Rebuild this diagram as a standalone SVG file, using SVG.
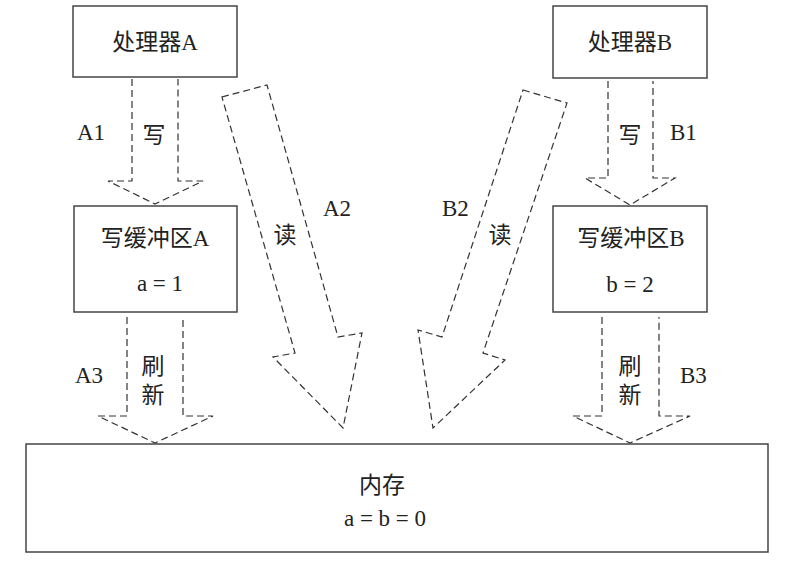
<svg xmlns="http://www.w3.org/2000/svg" width="789" height="572" viewBox="0 0 789 572">
<style>
.box{fill:#fff;stroke:#444;stroke-width:1.5}
.arr{fill:none;stroke:#333;stroke-width:1.2;stroke-dasharray:7 4}
text{font-family:"Liberation Serif","Noto Sans CJK SC",serif;font-size:23px;fill:#222}
.m{text-anchor:middle}
</style>
<rect width="789" height="572" fill="#fff"/>
<g id="connectors">
<path id="w-a1" class="arr" d="M132,79 V181 H108 L155,204 L203,181 H178 V79"/>
<path id="w-b1" class="arr" d="M608,81 V178 H585 L630,205 L675,178 H653 V81"/>
<path id="f-a3" class="arr" d="M127,317 V416 H98 L155,443 L213,416 H183 V317"/>
<path id="f-b3" class="arr" d="M602,317 V416 H573 L630,443 L690,416 H659 V317"/>
<path id="r-a2" class="arr" d="M222,97 L267,85 L338,337 L362,333 L343,428 L273,357 L295,353 Z"/>
<path id="r-b2" class="arr" d="M523,90 L567,103 L483,353 L505,360 L433,428 L418,330 L442,337 Z"/>
<text x="77" y="140">A1</text>
<text class="m" x="154" y="143">写</text>
<text x="670" y="140">B1</text>
<text class="m" x="630" y="143">写</text>
<text x="323" y="216">A2</text>
<text class="m" x="285" y="243">读</text>
<text x="442" y="216">B2</text>
<text class="m" x="500" y="243">读</text>
<text x="75" y="383">A3</text>
<text class="m" x="153" y="374">刷</text>
<text class="m" x="153" y="403">新</text>
<text x="680" y="383">B3</text>
<text class="m" x="630" y="374">刷</text>
<text class="m" x="630" y="403">新</text>
</g>
<g id="cpu-a">
<rect class="box" x="73" y="6" width="164" height="71"/>
<text class="m" x="155" y="50">处理器A</text>
</g>
<g id="cpu-b">
<rect class="box" x="553" y="6" width="154" height="72"/>
<text class="m" x="630" y="50">处理器B</text>
</g>
<g id="buf-a">
<rect class="box" x="74" y="206" width="163" height="106"/>
<text class="m" x="155" y="246">写缓冲区A</text>
<text class="m" x="160" y="291">a = 1</text>
</g>
<g id="buf-b">
<rect class="box" x="553" y="206" width="154" height="106"/>
<text class="m" x="631" y="246">写缓冲区B</text>
<text class="m" x="630" y="292">b = 2</text>
</g>
<g id="mem">
<rect class="box" x="26" y="444" width="742" height="108"/>
<text class="m" x="382" y="493">内存</text>
<text class="m" x="385" y="526">a = b = 0</text>
</g>
</svg>
